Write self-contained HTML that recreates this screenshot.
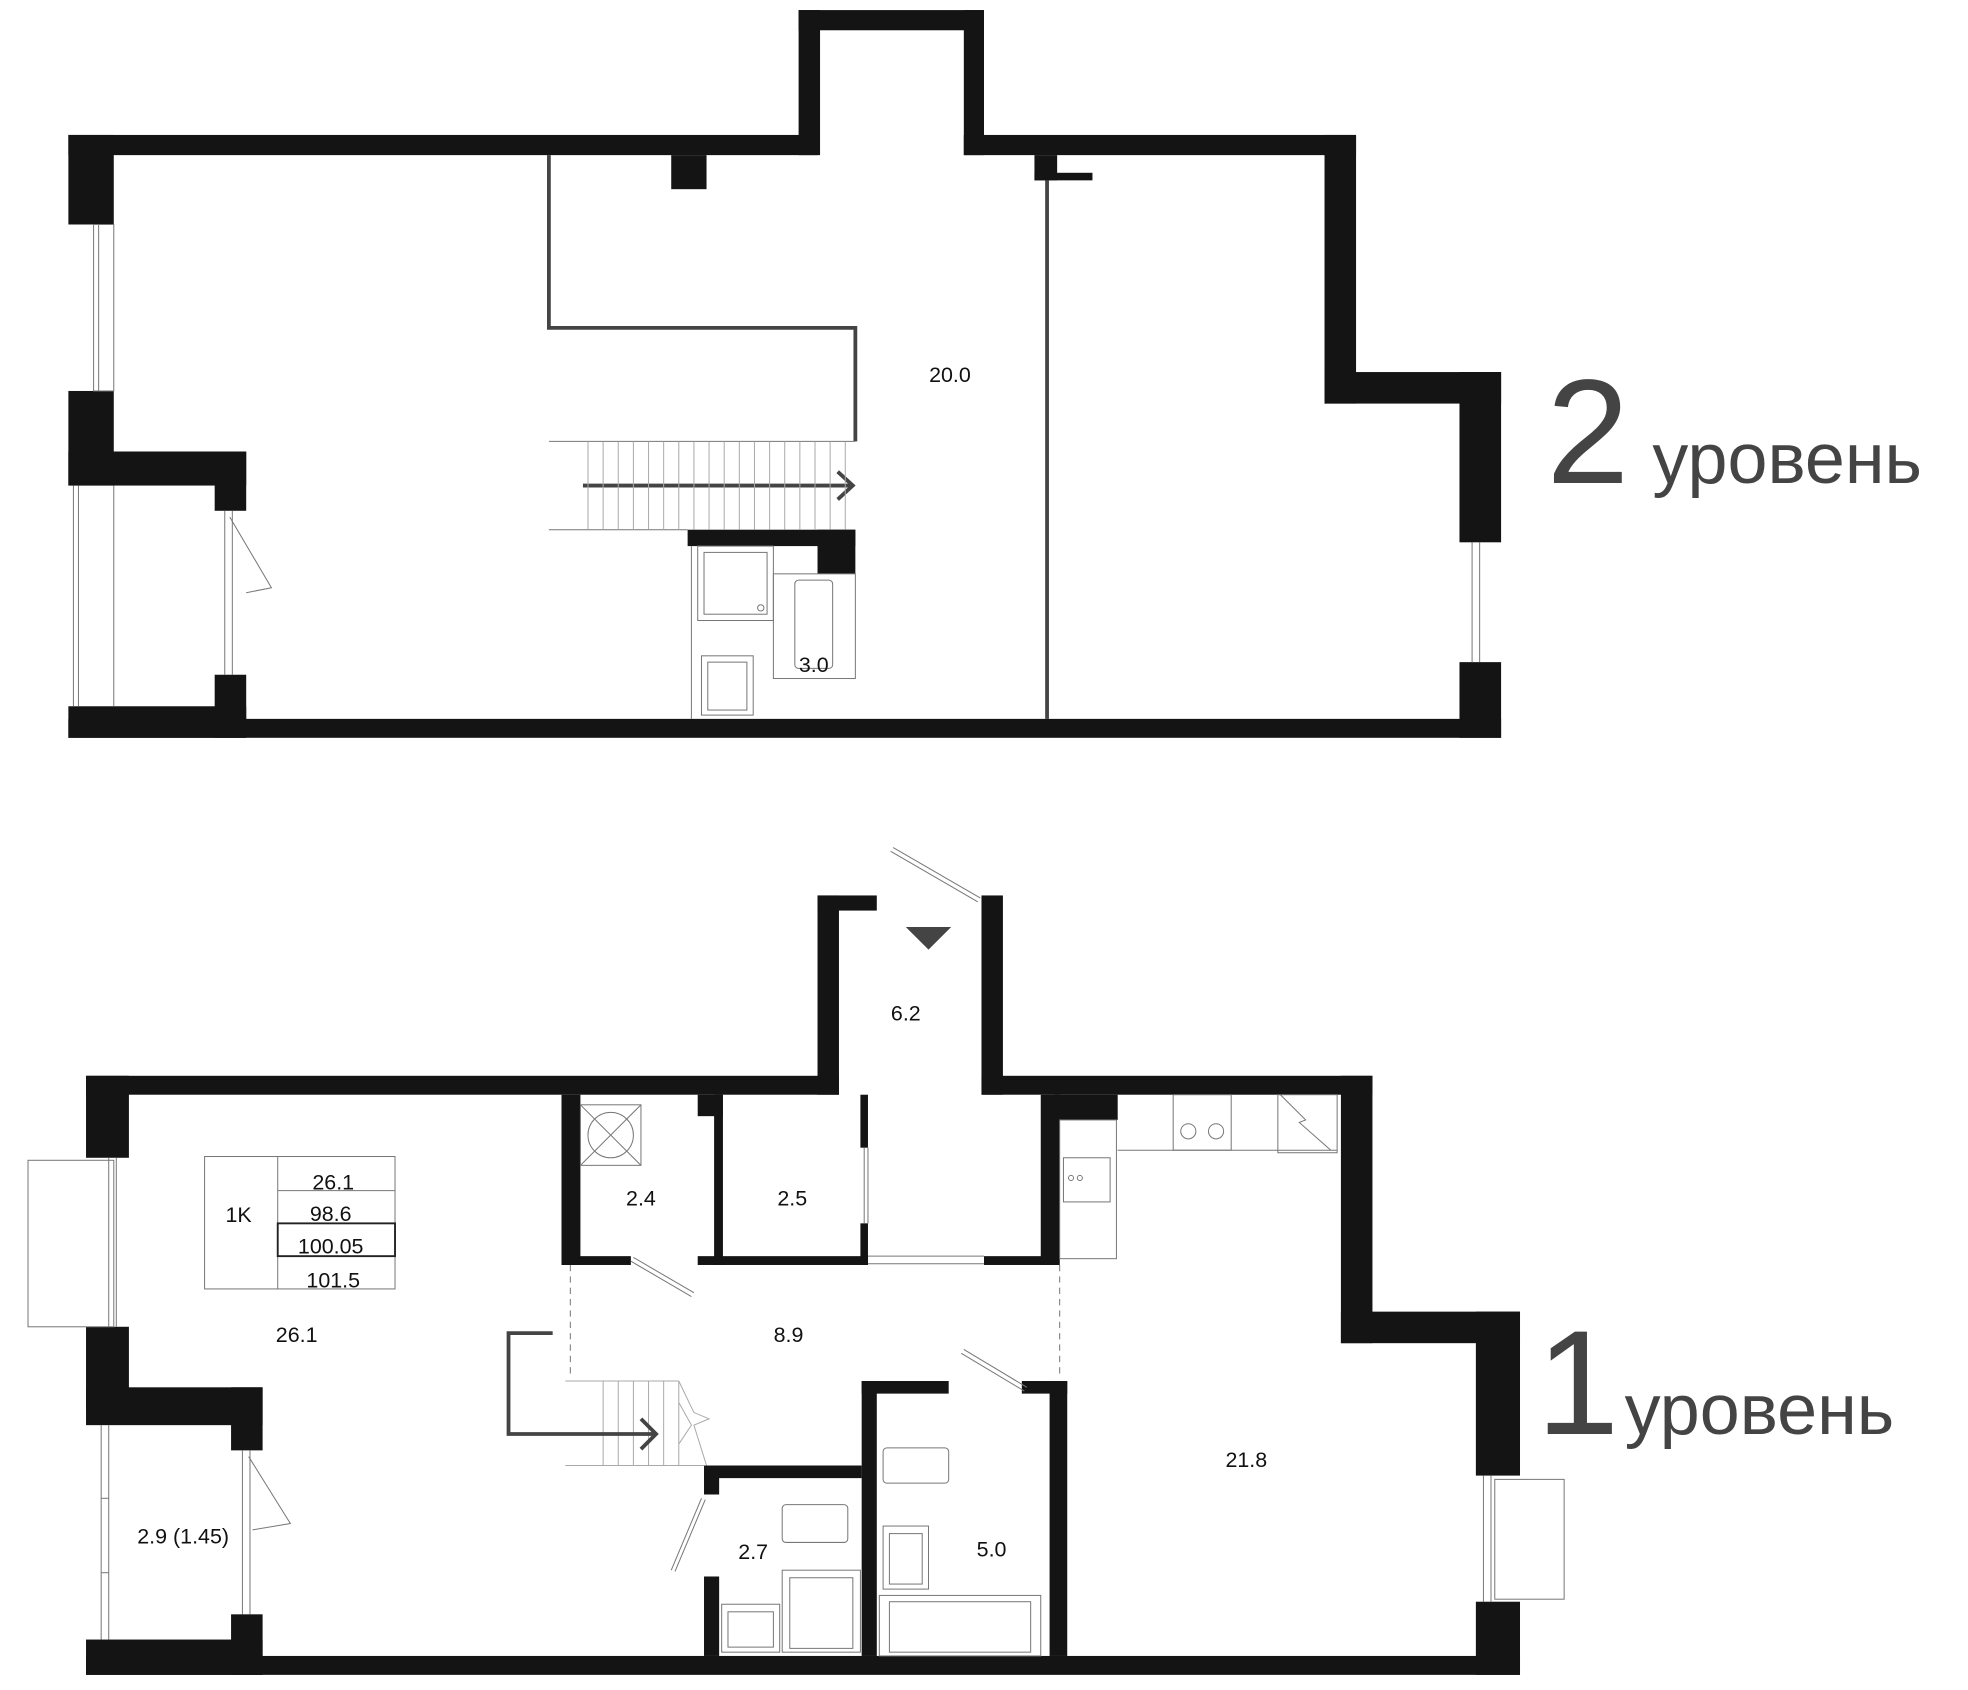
<!DOCTYPE html>
<html><head><meta charset="utf-8"><style>
html,body{margin:0;padding:0;background:#fff;}
svg{display:block;}
text{font-family:"Liberation Sans",sans-serif;fill:#111;}
</style></head><body>
<svg width="1968" height="1690" viewBox="0 0 1560 1340" xmlns="http://www.w3.org/2000/svg">
<g fill="#141414">
<rect x="54" y="107" width="594" height="16"/>
<rect x="633" y="8" width="17" height="115"/>
<rect x="633" y="8" width="147" height="16"/>
<rect x="764" y="8" width="16" height="115"/>
<rect x="764" y="107" width="311" height="16"/>
<rect x="1050" y="107" width="25" height="213"/>
<rect x="1050" y="295" width="140" height="25"/>
<rect x="1157" y="295" width="33" height="135"/>
<rect x="1157" y="525" width="33" height="60"/>
<rect x="54" y="570" width="1136" height="15"/>
<rect x="54" y="107" width="36" height="71"/>
<rect x="54" y="310" width="36" height="75"/>
<rect x="54" y="358" width="141" height="27"/>
<rect x="170" y="358" width="25" height="47"/>
<rect x="170" y="535" width="25" height="50"/>
<rect x="54" y="560" width="141" height="25"/>
<rect x="532" y="123" width="28" height="27"/>
<rect x="820" y="123" width="18" height="20"/>
<rect x="820" y="137" width="46" height="6"/>
<rect x="545" y="420" width="133" height="13"/>
<rect x="648" y="420" width="30" height="35"/>
</g>
<g fill="none" stroke="#444" stroke-width="3">
<polyline points="435,123 435,260 678,260 678,350"/>
<line x1="830" y1="143" x2="830" y2="570"/>
<line x1="462" y1="385" x2="676" y2="385"/>
<polyline points="664,374 676,385 664,396"/>
</g>
<g fill="none" stroke="#777" stroke-width="0.8">
<rect x="74" y="178" width="16" height="132"/>
<line x1="78" y1="178" x2="78" y2="310"/>
<line x1="58" y1="385" x2="58" y2="560"/><line x1="62" y1="385" x2="62" y2="560"/><line x1="90" y1="385" x2="90" y2="560"/>
<line x1="178" y1="405" x2="178" y2="535"/><line x1="184" y1="405" x2="184" y2="535"/>
<polyline points="182,410 215,466 195,470"/>
<line x1="1167" y1="430" x2="1167" y2="525"/><line x1="1173" y1="430" x2="1173" y2="525"/>
<line x1="435" y1="350" x2="678" y2="350"/><line x1="435" y1="420" x2="545" y2="420"/>
<line x1="548" y1="433" x2="548" y2="570"/>
<rect x="553" y="433" width="60" height="59"/><rect x="558" y="438" width="50" height="49"/>
<circle cx="603" cy="482" r="2.5"/>
<rect x="613" y="455" width="65" height="83"/>
<rect x="630" y="460" width="30" height="70" rx="3"/>
<rect x="556" y="520" width="41" height="47"/><rect x="561" y="525" width="31" height="38"/>
</g>
<g stroke="#aaa" stroke-width="0.8" fill="none">
<line x1="466" y1="350" x2="466" y2="420"/><line x1="478" y1="350" x2="478" y2="420"/><line x1="490" y1="350" x2="490" y2="420"/><line x1="502" y1="350" x2="502" y2="420"/><line x1="514" y1="350" x2="514" y2="420"/><line x1="526" y1="350" x2="526" y2="420"/><line x1="538" y1="350" x2="538" y2="420"/><line x1="550" y1="350" x2="550" y2="420"/><line x1="562" y1="350" x2="562" y2="420"/><line x1="574" y1="350" x2="574" y2="420"/><line x1="586" y1="350" x2="586" y2="420"/><line x1="598" y1="350" x2="598" y2="420"/><line x1="610" y1="350" x2="610" y2="420"/><line x1="622" y1="350" x2="622" y2="420"/><line x1="634" y1="350" x2="634" y2="420"/><line x1="646" y1="350" x2="646" y2="420"/><line x1="658" y1="350" x2="658" y2="420"/><line x1="670" y1="350" x2="670" y2="420"/>
</g>
<text x="753" y="303" font-size="17" text-anchor="middle">20.0</text>
<text x="645" y="533" font-size="17" text-anchor="middle">3.0</text>
<text x="1226" y="383" font-size="118" style="fill:#444">2</text>
<text x="1310" y="383" font-size="57" style="fill:#444">уровень</text>

<g fill="#141414">
<rect x="648" y="710" width="17" height="158"/>
<rect x="648" y="710" width="47" height="12"/>
<rect x="778" y="710" width="17" height="158"/>
<rect x="68" y="853" width="597" height="15"/>
<rect x="778" y="853" width="310" height="15"/>
<rect x="68" y="853" width="34" height="65"/>
<rect x="68" y="1052" width="34" height="66"/>
<rect x="68" y="1100" width="140" height="30"/>
<rect x="183" y="1100" width="25" height="50"/>
<rect x="183" y="1280" width="25" height="48"/>
<rect x="68" y="1300" width="140" height="28"/>
<rect x="68" y="1313" width="1137" height="15"/>
<rect x="1063" y="853" width="25" height="212"/>
<rect x="1063" y="1040" width="142" height="25"/>
<rect x="1170" y="1040" width="35" height="130"/>
<rect x="1170" y="1270" width="35" height="58"/>
<rect x="445" y="868" width="15" height="135"/>
<rect x="445" y="996" width="55" height="7"/>
<rect x="553" y="868" width="20" height="17"/>
<rect x="566" y="868" width="7" height="135"/>
<rect x="553" y="996" width="135" height="7"/>
<rect x="682" y="868" width="6" height="42"/>
<rect x="682" y="970" width="6" height="33"/>
<rect x="825" y="868" width="15" height="135"/>
<rect x="780" y="996" width="60" height="7"/>
<rect x="683" y="1095" width="12" height="218"/>
<rect x="683" y="1095" width="69" height="10"/>
<rect x="810" y="1095" width="36" height="10"/>
<rect x="832" y="1095" width="14" height="218"/>
<rect x="558" y="1162" width="125" height="10"/>
<rect x="558" y="1162" width="12" height="23"/>
<rect x="558" y="1250" width="12" height="63"/>
<rect x="836" y="868" width="50" height="20"/>
</g>
<polygon points="718,735 754,735 736,753" fill="#444"/>
<g fill="none" stroke="#777" stroke-width="0.8">
<line x1="706" y1="675" x2="775" y2="715"/><line x1="708" y1="672" x2="777" y2="712"/>
<rect x="22" y="920" width="68" height="132"/>
<line x1="86" y1="918" x2="86" y2="1052"/><line x1="92" y1="918" x2="92" y2="1052"/>
<line x1="80" y1="1130" x2="80" y2="1300"/><line x1="86" y1="1130" x2="86" y2="1300"/><line x1="80" y1="1188" x2="86" y2="1188"/><line x1="80" y1="1247" x2="86" y2="1247"/>
<line x1="192" y1="1150" x2="192" y2="1280"/><line x1="198" y1="1150" x2="198" y2="1280"/>
<polyline points="197,1155 230,1208 200,1213"/>
<rect x="1185" y="1173" width="55" height="95"/>
<line x1="1176" y1="1170" x2="1176" y2="1270"/><line x1="1182" y1="1170" x2="1182" y2="1270"/>
<rect x="460" y="876" width="48" height="48"/><circle cx="484" cy="900" r="18"/><line x1="460" y1="876" x2="508" y2="924"/><line x1="508" y1="876" x2="460" y2="924"/>
<line x1="688" y1="910" x2="688" y2="970"/><line x1="685" y1="910" x2="685" y2="970"/>
<line x1="688" y1="996" x2="780" y2="996"/><line x1="688" y1="1002" x2="780" y2="1002"/>
<line x1="500" y1="1000" x2="548" y2="1028"/><line x1="502" y1="997" x2="550" y2="1025"/>
<line x1="762" y1="1073" x2="812" y2="1103"/><line x1="764" y1="1070" x2="814" y2="1100"/>
<line x1="452" y1="1003" x2="452" y2="1090" stroke-dasharray="5 4"/>
<line x1="840" y1="1003" x2="840" y2="1090" stroke-dasharray="5 4"/>
<line x1="556" y1="1188" x2="532" y2="1245"/><line x1="559" y1="1189" x2="535" y2="1246"/>
<rect x="840" y="888" width="45" height="110"/>
<rect x="843" y="918" width="37" height="35"/>
<circle cx="849" cy="934" r="2"/><circle cx="856" cy="934" r="2"/>
<line x1="886" y1="912" x2="1060" y2="912"/>
<rect x="930" y="868" width="46" height="44"/><circle cx="942" cy="897" r="6"/><circle cx="964" cy="897" r="6"/>
<rect x="1013" y="868" width="47" height="46"/><polyline points="1015,868 1035,888 1030,890 1055,912"/>
<rect x="700" y="1148" width="52" height="28" rx="3"/>
<rect x="700" y="1210" width="36" height="50"/><rect x="705" y="1216" width="26" height="40"/>
<rect x="697" y="1265" width="128" height="48"/><rect x="705" y="1270" width="112" height="40"/>
<rect x="620" y="1193" width="52" height="30" rx="3"/>
<rect x="572" y="1272" width="46" height="38"/><rect x="577" y="1278" width="36" height="28"/>
<rect x="620" y="1245" width="62" height="65"/><rect x="626" y="1251" width="50" height="56"/>
<rect x="162" y="917" width="151" height="105"/>
<line x1="220" y1="917" x2="220" y2="1022"/>
<line x1="220" y1="944" x2="313" y2="944"/>
</g>
<rect x="220" y="970" width="93" height="26" fill="none" stroke="#222" stroke-width="1.5"/>
<g stroke="#aaa" stroke-width="0.8" fill="none">
<line x1="448" y1="1095" x2="538" y2="1095"/><line x1="448" y1="1162" x2="558" y2="1162"/>
<line x1="478" y1="1095" x2="478" y2="1162"/><line x1="490" y1="1095" x2="490" y2="1162"/><line x1="502" y1="1095" x2="502" y2="1162"/><line x1="514" y1="1095" x2="514" y2="1162"/><line x1="526" y1="1095" x2="526" y2="1162"/><line x1="538" y1="1095" x2="538" y2="1162"/>
<polyline points="538,1095 550,1120 562,1125 550,1130 560,1162"/>
<polyline points="538,1112 548,1130 538,1145"/>
</g>
<g fill="none" stroke="#444" stroke-width="3">
<polyline points="438,1057 403,1057 403,1137 518,1137"/>
<polyline points="508,1125 520,1137 508,1149"/>
</g>
<g font-size="17" text-anchor="middle">
<text x="718" y="809">6.2</text>
<text x="508" y="956">2.4</text>
<text x="628" y="956">2.5</text>
<text x="235" y="1064">26.1</text>
<text x="625" y="1064">8.9</text>
<text x="988" y="1163">21.8</text>
<text x="786" y="1234">5.0</text>
<text x="597" y="1236">2.7</text>
<text x="145" y="1224">2.9 (1.45)</text>
<text x="189" y="969">1K</text>
<text x="264" y="943">26.1</text>
<text x="262" y="968">98.6</text>
<text x="262" y="994">100.05</text>
<text x="264" y="1021">101.5</text>
</g>
<text x="1218" y="1137" font-size="118" style="fill:#444">1</text>
<text x="1288" y="1137" font-size="57" style="fill:#444">уровень</text>
</svg>
</body></html>
